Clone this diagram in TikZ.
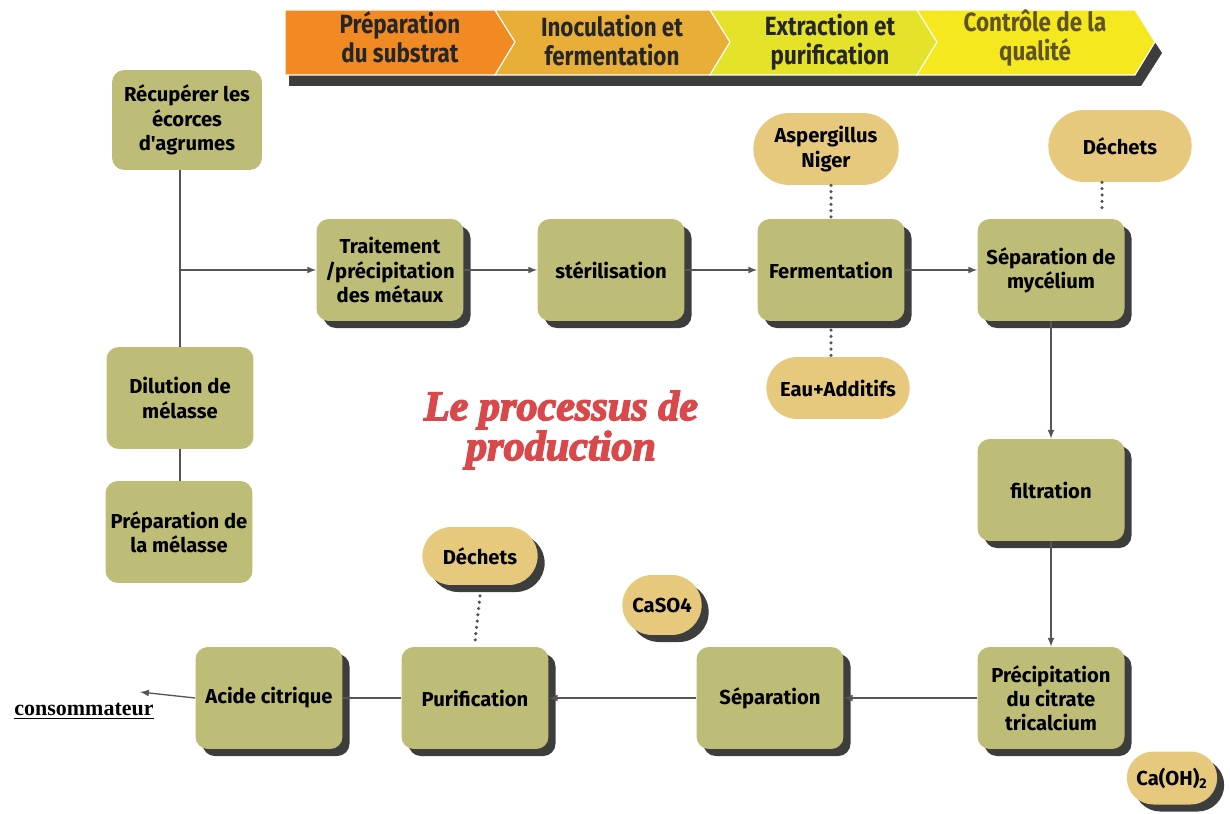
\documentclass[tikz,border=0pt]{standalone}
\usepackage{fontspec}
\setmainfont{Fira Sans}[Ligatures=TeXOff]
\newfontfamily\headfont{Fira Sans}[FakeStretch=0.85]
\newfontfamily\titlefont{Liberation Serif}[FakeBold=3.5]
\newfontfamily\consfont{Liberation Serif}
\usetikzlibrary{shadows,shapes.misc}

\definecolor{boxgreen}{HTML}{BDBD78}
\definecolor{pilltan}{HTML}{E6C97C}
\definecolor{shadowgray}{HTML}{3D3D3D}
\definecolor{linegray}{HTML}{555555}
\definecolor{hdorange}{HTML}{F28A24}
\definecolor{hdgold}{HTML}{E8AE38}
\definecolor{hdlime}{HTML}{E5E22A}
\definecolor{hdyellow}{HTML}{F6E81E}
\definecolor{hdolive}{HTML}{5E5424}
\definecolor{titlered}{HTML}{D9484A}

\begin{document}
\begin{tikzpicture}[x=0.02cm, y=-0.02cm,
    box/.style={rectangle, rounded corners=7pt, fill=boxgreen, minimum width=2.94cm, minimum height=2.04cm, align=center, inner sep=2pt, font=\bfseries\fontsize{11.5}{13.8}\selectfont},
    main/.style={box, drop shadow={shadow xshift=4pt, shadow yshift=-4pt, fill=shadowgray, opacity=1}},
    pill/.style={rounded rectangle, fill=pilltan, align=center, font=\bfseries\fontsize{11.5}{13.8}\selectfont},
    spill/.style={pill, drop shadow={shadow xshift=4pt, shadow yshift=-4pt, fill=shadowgray, opacity=1}},
    head/.style={align=center, font=\headfont\bfseries\fontsize{15}{16.5}\selectfont, text=black!85},
    l/.style={line width=0.75pt, linegray},
    n/.style={-latex, line width=0.75pt, linegray},
    d/.style={line width=2pt, linegray, line cap=round, dash pattern=on 0pt off 3.6pt}]
    \useasboundingbox (0,0) rectangle (1230,814);

    % header banner
    \fill[shadowgray] (289,21) -- (1141,21) -- (1162,53) -- (1141,86) -- (289,86) -- cycle;
    \fill[hdorange, draw=white, line width=0.6pt] (285,10) -- (495,10) -- (515,42) -- (495,75) -- (285,75) -- cycle;
    \fill[hdgold, draw=white, line width=0.6pt] (495,10) -- (710,10) -- (730,42) -- (710,75) -- (495,75) -- (515,42) -- cycle;
    \fill[hdlime, draw=white, line width=0.6pt] (710,10) -- (917,10) -- (937,42) -- (917,75) -- (710,75) -- (730,42) -- cycle;
    \fill[hdyellow, draw=white, line width=0.6pt] (917,10) -- (1135,10) -- (1155,42) -- (1135,75) -- (917,75) -- (937,42) -- cycle;
    \node[head] (h1) at (400,37) {Préparation\\du substrat};
    \node[head] (h2) at (612,41) {Inoculation et\\fermentation};
    \node[head] (h3) at (830,42) {Extraction et\\purification};
    \node[head, text=hdolive] (h4) at (1035,38) {Contrôle de la\\qualité};

    % nodes
    \node[box, minimum width=3cm, minimum height=2cm] (recup) at (187,120) {Récupérer les\\écorces\\d'agrumes};
    \node[box] (dilution) at (180,398) {Dilution de\\mélasse};
    \node[box] (prepa) at (179,532) {Préparation de\\la mélasse};

    \node[main] (traitement) at (390,270) {Traitement\\/précipitation\\des métaux};
    \node[main] (steril) at (611,270) {stérilisation};
    \node[main] (ferm) at (831,270) {Fermentation};
    \node[main] (mycel) at (1051,270) {Séparation de\\mycélium};
    \node[main] (filtr) at (1051,490) {filtration};
    \node[main] (precip) at (1051,698) {Précipitation\\du citrate\\tricalcium};
    \node[main] (separ) at (770,698) {Séparation};
    \node[main] (purif) at (475,698) {Purification};
    \node[main] (acide) at (269,698) {Acide citrique};

    \node[pill, minimum width=3.14cm, minimum height=1.44cm] (asper) at (826,149) {Aspergillus\\Niger};
    \node[pill, minimum width=3.1cm, minimum height=1.44cm] (dechA) at (1120,146) {Déchets};
    \node[pill, minimum width=3.1cm, minimum height=1.24cm] (eau) at (838,388) {Eau+Additifs};
    \node[spill, minimum width=2.54cm, minimum height=1.16cm] (dechB) at (480,556) {Déchets};
    \node[spill, minimum width=1.82cm, minimum height=1.2cm] (caso) at (662,605) {CaSO4};
    \node[spill, minimum width=2.04cm, minimum height=1.06cm] (caoh) at (1172,778) {Ca(OH)\textsubscript{2}};

    \node[font=\titlefont\bfseries\itshape\fontsize{24}{21}\selectfont, text=titlered, align=center] (titre) at (561,430) {Le processus de\\production};
    \node[font=\consfont\bfseries\fontsize{12.5}{14}\selectfont] (conso) at (84,711) {\underline{consommateur}};

    \coordinate (junc) at (180,270);
    \coordinate (consend) at (140,692);

    % edges
    \draw[l] (recup.south -| junc) -- (dilution.north -| junc);
    \draw[l] (dilution.south -| junc) -- (prepa.north -| junc);
    \draw[n] (junc) -- (traitement);
    \draw[n] (traitement) -- (steril);
    \draw[n] (steril) -- (ferm);
    \draw[n] (ferm) -- (mycel);
    \draw[n] (mycel) -- (filtr);
    \draw[n] (filtr) -- (precip);
    \draw[n] (precip) -- (separ);
    \draw[n] (separ) -- (purif);
    \draw[l] (purif) -- (acide);
    \draw[n] (acide.west) -- (consend);

    \draw[d] (asper.south -| ferm) -- (ferm.north);
    \draw[d] ([yshift=-5pt]ferm.south) -- (eau.north -| ferm);
    \draw[d] ([xshift=-0.36cm]dechA.south) -- ([xshift=-0.36cm, yshift=3pt]dechA.south |- mycel.north);
    \draw[d] ([yshift=-6pt]dechB.south) -- ([yshift=3pt]purif.north);
\end{tikzpicture}
\end{document}
